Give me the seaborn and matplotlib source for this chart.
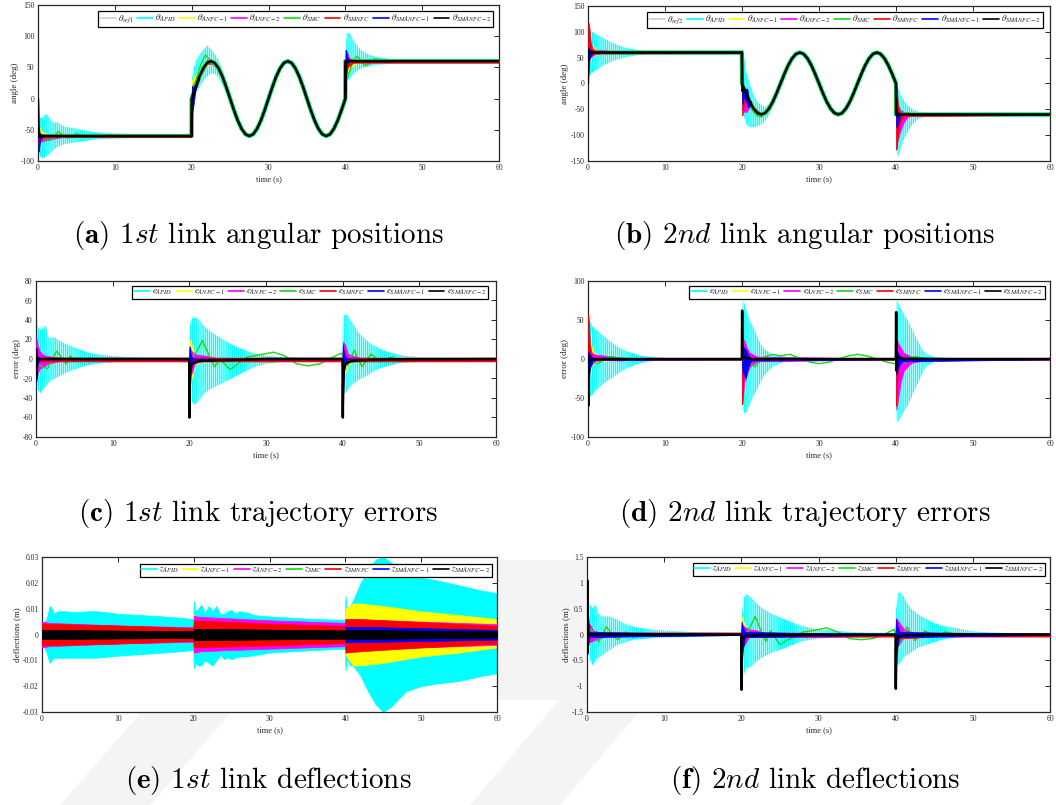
import numpy as np
import pandas as pd
import matplotlib
matplotlib.use("Agg")
import matplotlib.pyplot as plt
import seaborn as sns
from matplotlib.lines import Line2D
from matplotlib.ticker import FuncFormatter

# ---------------- data ----------------
TIME_TICKS = [0, 10, 20, 30, 40, 50, 60]
COLORS = ["#00ffff", "#ffff00", "#ff00ff", "#11dd11", "#ff0000", "#0000ff", "#000000"]
NAMES = ["APID", "ANFC-1", "ANFC-2", "SMC", "SMNFC", "SMANFC-1", "SMANFC-2"]

REF_TIME = [0, 19.99, 20, 20.5, 21, 21.5, 22, 22.5, 23, 23.5, 24, 24.5, 25, 25.5, 26, 26.5, 27, 27.5,
            28, 28.5, 29, 29.5, 30, 30.5, 31, 31.5, 32, 32.5, 33, 33.5, 34, 34.5, 35, 35.5, 36, 36.5,
            37, 37.5, 38, 38.5, 39, 39.5, 40, 40.01, 60]
REF1 = [-60, -60, 0, 18.5, 35.3, 48.5, 57.1, 60, 57.1, 48.5, 35.3, 18.5, 0, -18.5, -35.3, -48.5, -57.1, -60,
        -57.1, -48.5, -35.3, -18.5, 0, 18.5, 35.3, 48.5, 57.1, 60, 57.1, 48.5, 35.3, 18.5, 0, -18.5, -35.3, -48.5,
        -57.1, -60, -57.1, -48.5, -35.3, -18.5, 0, 60, 60]
REF2 = [60, 60, 0, -18.5, -35.3, -48.5, -57.1, -60, -57.1, -48.5, -35.3, -18.5, 0, 18.5, 35.3, 48.5, 57.1, 60,
        57.1, 48.5, 35.3, 18.5, 0, -18.5, -35.3, -48.5, -57.1, -60, -57.1, -48.5, -35.3, -18.5, 0, 18.5, 35.3, 48.5,
        57.1, 60, 57.1, 48.5, 35.3, 18.5, 0, -60, -60]

# --- panel (a): envelopes (t, low, high) per window; lines (t, y) per window
A_APID = [
    [(0.02, -85, -20), (0.2, -93, -30), (0.5, -95, -32), (0.8, -95, -27), (1.2, -92, -25), (1.6, -88, -33),
     (2, -82, -38), (2.5, -78, -38), (3, -75, -42), (3.5, -73, -45), (4, -72, -46), (5, -70, -48), (6, -68, -51),
     (7, -66, -53), (8, -65, -54), (10, -64, -56), (12, -63, -57), (14, -62, -58), (17, -61, -59), (19.95, -60.5, -59.5)],
    [(20.02, -10, 30), (20.3, -5, 50), (20.6, 10, 62), (21, 18, 70), (21.5, 28, 78), (22, 35, 85), (22.5, 40, 80),
     (23, 40, 72), (23.5, 34, 62), (24, 22, 47), (24.5, 8, 28), (25, -8, 8), (25.5, -25, -12), (26, -40, -30)],
    [(40.02, 10, 80), (40.2, 28, 105), (40.6, 32, 105), (41, 38, 95), (41.5, 44, 86), (42, 48, 78), (43, 51, 71),
     (44, 54, 67), (45, 55, 65), (46, 56, 63), (48, 57.5, 62), (50, 58.5, 61), (53, 59.3, 60.7), (56, 59.5, 60.5),
     (60, 59.7, 60.3)]]
A_ANFC1 = [
    [(0.05, -70, -40), (0.3, -68, -50), (0.8, -66, -55), (1.5, -64, -58), (2.5, -61, -60)],
    [(20.05, -5, 30), (20.3, 5, 35), (20.8, 25, 42), (21.5, 45, 52), (22.5, 58, 61)],
    [(40.05, 30, 70), (40.3, 40, 62), (40.8, 52, 61), (41.5, 57, 61), (42.5, 59.5, 60.5)]]
A_ANFC2 = [
    [(0.05, -75, -50), (0.2, -70, -55), (0.5, -68, -58), (1, -67, -60), (1.5, -66, -60), (2, -64, -60),
     (3, -62, -60), (4, -60.5, -59.5)],
    [(20.05, -5, 20), (20.3, 5, 25), (21, 33, 40), (22, 55, 63), (23, 56, 60)],
    [(40.05, 40, 78), (40.2, 50, 75), (40.5, 56, 65), (41, 58, 62), (42, 59, 61)]]
A_SMC = [
    [(0, 0), (0.1, -40), (0.3, -58), (0.8, -65), (1.5, -67), (2, -62), (2.6, -53), (3.2, -58), (3.8, -63),
     (4.4, -61), (5, -56), (5.6, -59), (6.5, -61), (8, -60)],
    [(19.99, -60), (20.05, -5), (20.3, 20), (20.7, 35), (21.2, 55), (21.8, 70), (22.4, 62), (23, 52), (23.5, 48),
     (24, 36), (24.5, 18), (25, 0)],
    [(39.99, 0), (40.05, 25), (40.5, 42), (41, 60), (41.5, 68), (42, 62), (42.5, 53), (43, 55), (43.8, 64),
     (44.5, 62), (45.5, 58), (47, 60.5), (50, 60)]]
A_SMNFC = [
    [(0.03, -72, -45), (0.2, -68, -55), (0.5, -64, -57), (1, -62, -58), (2, -61.5, -58.5), (19.95, -61.5, -58.5)],
    [(40.03, 30, 70), (40.3, 50, 65), (41, 57.5, 62), (60, 57.5, 62)]]
A_SMANFC1 = [
    [(0.03, -40, 0), (0.08, -85, -45), (0.15, -80, -55), (0.3, -65, -58), (0.5, -61, -60)],
    [(20.02, -55, 20), (20.1, -20, 20), (20.25, -10, 15), (20.5, 15, 20)],
    [(40.02, 10, 78), (40.1, 40, 78), (40.2, 55, 70), (40.4, 58, 62)]]
A_SMANFC2 = [
    [(0, 0), (0.05, -40), (0.1, -62), (0.2, -57), (0.35, -61), (0.6, -60)],
    [(19.99, -60), (20.05, -8), (20.1, -2), (20.2, 3), (20.5, 15), (21, 32)],
    [(39.99, 0), (40.03, 45), (40.1, 58), (40.3, 60)]]

# --- panel (b)
B_APID = [
    [(0.02, 5, 95), (0.2, 15, 102), (0.5, 20, 100), (1, 25, 96), (1.5, 30, 92), (2, 35, 88), (3, 42, 80),
     (4, 47, 74), (5, 51, 69), (6, 54, 66), (8, 57, 63), (10, 58.5, 61.5), (13, 59, 61), (16, 59.5, 60.5),
     (19.95, 59.7, 60.3)],
    [(20.02, -20, 68), (20.2, -60, 60), (20.5, -78, 25), (21, -85, 0), (21.5, -85, -20), (22, -83, -35),
     (22.5, -80, -42), (23, -73, -45), (23.5, -62, -40), (24, -45, -28), (24.5, -27, -10), (25, -8, 8),
     (25.5, 12, 25), (26, 30, 40)],
    [(40.02, -120, 5), (40.2, -145, -5), (40.5, -130, -20), (41, -110, -32), (41.5, -95, -42), (42, -82, -48),
     (42.5, -74, -52), (43, -68, -55), (44, -64, -57), (45, -62, -58.5), (46, -61, -59), (48, -60.5, -59.5),
     (50, -60.3, -59.7), (55, -60.2, -59.8), (60, -60.2, -59.8)]]
B_ANFC1 = [
    [(0.05, 40, 90), (0.3, 50, 75), (0.8, 55, 68), (1.5, 57, 64), (2.5, 59, 61)],
    [(20.05, -45, -5), (20.4, -50, -20), (21, -45, -30), (22, -60, -55)],
    [(40.05, -110, -40), (40.3, -100, -50), (40.7, -75, -55), (41.5, -62, -59)]]
B_ANFC2 = [
    [(0.05, 40, 80), (0.3, 50, 70), (0.8, 56, 66), (1.5, 58, 65), (2.5, 60, 64), (3.5, 59, 61)],
    [(20.05, -50, -5), (20.3, -55, -10), (20.6, -55, -20), (21, -45, -30), (21.5, -55, -45), (22.5, -62, -58)],
    [(40.05, -125, -30), (40.2, -110, -40), (40.5, -95, -50), (41, -75, -55), (41.5, -65, -58), (42, -61, -59)]]
B_SMC = [
    [(0, 60), (0.3, 65), (1, 63), (2, 60.5), (3, 60)],
    [(19.99, 60), (20.05, 0), (20.5, -20), (21, -40), (21.5, -55), (22, -63), (22.5, -65), (23, -58), (23.5, -48)],
    [(39.99, 0), (40.05, -10), (40.3, -45), (40.8, -62), (41.5, -56), (42.5, -61), (44, -60)]]
B_SMNFC = [
    [(0.03, 10, 117), (0.1, 40, 117), (0.2, 50, 105), (0.35, 55, 80), (0.6, 57, 66), (1, 58, 62), (19.95, 58.5, 61.5)],
    [(20.02, -62, 0), (20.1, -60, -5), (20.25, -40, -10), (20.5, -25, -18)],
    [(40.02, -128, -5), (40.1, -125, -10), (40.25, -100, -40), (40.5, -75, -55), (41, -63, -58), (60, -61, -59)]]
B_SMANFC1 = [
    [(0.03, 20, 70), (0.1, 45, 70), (0.3, 52, 65), (0.6, 58, 61)],
    [(20.02, -40, -5), (20.3, -25, -10), (20.7, -45, -10), (20.9, -45, -30), (21.2, -40, -35)],
    [(40.03, -85, -50), (40.2, -80, -55), (40.5, -65, -58)]]
B_SMANFC2 = [
    [(0, 0), (0.05, 50), (0.1, 65), (0.2, 60), (0.4, 60)],
    [(19.99, 60), (20.05, -15), (20.15, -10), (20.3, -12), (20.6, -22)],
    [(39.99, 0), (40.05, -50), (40.15, -62), (40.3, -60)]]

# --- panel (c): errors of link 1 (t, low, high) and lines (t, y)
C_APID = [(0, -10, 60), (0.1, -25, 45), (0.3, -33, 32), (0.6, -35, 30), (1, -30, 32), (1.3, -28, 35), (1.6, -25, 22),
          (2, -22, 22), (2.5, -20, 22), (3, -18, 19), (3.5, -16, 17), (4, -14, 15), (5, -11, 12), (6, -8, 9),
          (7, -6, 6), (8, -5, 5), (10, -3.5, 3), (12, -2.5, 2), (15, -2, 1.5), (19.95, -1.5, 1), (20.02, -20, 30),
          (20.2, -40, 40), (20.5, -47, 43), (21, -45, 42), (21.5, -40, 38), (22, -35, 33), (23, -30, 27),
          (24, -26, 22), (25, -22, 17), (26, -18, 13), (27, -14, 10), (28, -10, 7), (29, -7, 5), (30, -5, 3.5),
          (32, -3, 2), (35, -2, 1.5), (39.95, -1.5, 1), (40.02, -20, 35), (40.2, -35, 45), (40.5, -34, 46),
          (41, -28, 40), (41.5, -25, 35), (42, -22, 28), (43, -18, 20), (44, -13, 14), (45, -9, 10), (46, -7, 7),
          (47, -5, 5), (48, -4, 3.5), (50, -3, 2), (52, -2, 1.5), (55, -1.5, 1), (60, -1.5, 1)]
C_ANFC1 = [(0, 0, 0), (0.05, -10, 12), (0.2, -12, 10), (0.5, -10, 5), (1, -6, 3), (1.5, -3, 2), (2.5, -2, 1),
           (4, -1, 0.5), (19.98, -0.5, 0.5), (20.05, -28, 20), (20.3, -20, 15), (20.7, -6, 5), (21.5, -3, 3),
           (22.5, -2, 1.5), (23.5, -1, 1), (39.98, -0.5, 0.5), (40.05, -18, 8), (40.3, -15, 5), (40.7, -5, 3),
           (41.5, -2, 2), (42.5, -1, 1), (60, -0.5, 0.5)]
C_ANFC2 = [(0, 0, 0), (0.05, -20, 22), (0.2, -15, 15), (0.5, -10, 8), (1, -8, 4), (1.5, -5, 3), (2.5, -3, 2),
           (4, -1, 1), (19.98, -0.5, 0.5), (20.05, -10, 12), (20.3, -15, 8), (20.7, -5, 5), (21.5, -2, 4),
           (22.5, -1.5, 3), (23.5, -1, 1), (39.98, -0.5, 0.5), (40.05, -10, 18), (40.3, -5, 15), (40.7, -3, 5),
           (41.5, -1, 3), (42.5, -1, 1), (60, -0.5, 0.5)]
C_SMC = [(0, 0), (0.3, -5), (0.8, -8), (1.5, -10), (2.1, 0), (2.7, 8), (3.3, 2), (3.9, -5), (4.5, 3), (5.1, -2),
         (5.8, 1), (6.5, -1), (7.5, 0), (20, 0), (20.2, -10), (20.6, 5), (21, 8), (21.7, 19), (22.5, 5),
         (23.3, -8), (24, 0), (25.3, -11), (26.5, -4), (27.5, 2), (29, 4), (31, 7), (32.5, 3), (34, -5),
         (35.5, -7), (37, -5), (38.5, 1), (39.8, 6), (40.2, 2), (40.6, -7), (41.5, 9), (42.5, -8), (43.7, 5),
         (45, -3), (46.2, 2), (47.5, -1), (60, 0)]
C_SMNFC = [(0, -2.5, 1.5), (0.02, -20, 5), (0.08, -15, 3), (0.2, -5, 2), (0.5, -2.5, 1.5), (19.98, -2.5, 1.5),
           (20.02, -55, 10), (20.08, -30, 5), (20.2, -8, 2), (20.5, -2.5, 1.5), (39.98, -2.5, 1.5),
           (40.02, -60, 12), (40.08, -40, 8), (40.2, -10, 3), (40.5, -2.5, 1.5), (60, -2.5, 1.5)]
C_SMANFC1 = [(0, 0, 0), (0.03, -23, 10), (0.1, -10, 5), (0.3, -2, 1), (0.6, -0.5, 0.5), (19.98, -0.5, 0.5),
             (20.03, -15, 13), (20.1, -10, 8), (20.3, -3, 2), (20.6, -0.5, 0.5), (39.98, -0.5, 0.5),
             (40.03, -40, 15), (40.1, -20, 10), (40.3, -5, 3), (40.6, -0.5, 0.5), (60, -0.5, 0.5)]
C_SMANFC2 = [(0, 0), (0.03, 10), (0.06, -20), (0.1, -5), (0.2, 0), (19.98, 0), (20.02, -60), (20.06, -25),
             (20.15, -12), (20.3, -6), (20.6, -4), (21, -2.5), (22, -1.8), (24, -1.2), (27, -0.8), (30, 0),
             (39.98, 0), (40.02, -60), (40.06, -25), (40.15, -12), (40.3, -6), (40.6, -4), (41, -2.5), (42, -1.5),
             (44, -0.8), (47, -0.3), (60, 0)]

# --- panel (d): errors of link 2
D_APID = [(0, -10, 10), (0.05, -45, 50), (0.2, -48, 50), (0.5, -47, 42), (1, -40, 38), (1.5, -36, 34), (2, -32, 30),
          (3, -25, 22), (4, -18, 15), (5, -12, 10), (6, -8, 7), (7, -5, 4), (8, -3, 3), (10, -2, 1.5),
          (12, -1, 1), (15, -0.7, 0.7), (19.95, -0.5, 0.5), (20.02, -30, 30), (20.1, -65, 75), (20.3, -70, 72),
          (20.6, -68, 62), (21, -58, 50), (21.5, -48, 40), (22, -38, 28), (22.5, -28, 18), (23, -20, 12),
          (24, -10, 6), (25, -5, 4), (26, -3, 2), (28, -1.5, 1), (30, -1, 0.7), (35, -0.7, 0.5), (39.95, -0.5, 0.5),
          (40.02, -40, 30), (40.1, -82, 78), (40.3, -80, 72), (40.6, -75, 66), (41, -68, 58), (41.5, -60, 50),
          (42, -50, 40), (42.5, -38, 30), (43, -28, 20), (43.5, -16, 11), (44, -9, 6), (45, -3, 2.5), (47, -1, 1),
          (50, -0.6, 0.6), (55, -0.5, 0.5), (60, -0.5, 0.5)]
D_ANFC1 = [(0, 0, 0), (0.05, -15, 25), (0.3, -10, 20), (0.8, -5, 8), (1.5, -3, 4), (2.5, -2, 2), (4, -1, 1),
           (6, -0.5, 0.5), (19.98, -0.5, 0.5), (20.05, -60, 5), (20.3, -25, 10), (20.6, -10, 5), (21, -5, 3),
           (22, -2, 1), (39.98, -0.5, 0.5), (40.05, -60, 10), (40.3, -40, 8), (40.6, -20, 5), (41, -8, 3),
           (42, -3, 1), (44, -1, 0.5), (60, -0.5, 0.5)]
D_ANFC2 = [(0, 0, 0), (0.05, -15, 15), (0.3, -10, 10), (0.8, -3, 6), (1.5, -2, 5), (2.5, -1, 4), (4, -2, 2),
           (6, -1, 1), (19.98, -0.5, 0.5), (20.05, -58, 5), (20.3, -30, 25), (20.6, -20, 15), (21, -10, 8),
           (22, -3, 3), (39.98, -0.5, 0.5), (40.05, -65, 25), (40.3, -50, 20), (40.6, -30, 15), (41, -15, 8),
           (42, -5, 3), (44, -1, 1), (60, -0.5, 0.5)]
D_SMC = [(0, 0), (0.3, -3), (0.8, -5), (1.3, -6), (1.9, -2), (2.5, 2), (3.2, 3), (4, 1), (5, 0), (20, 0),
         (20.2, -5), (20.5, -10), (21, -5), (21.7, -10), (22.3, -3), (23, 3), (24, 6), (25, 4), (26.2, 6),
         (27.5, 1), (28.8, -4), (30, -6), (31.3, -4), (32.5, 0), (33.8, 4), (35, 6), (36.2, 4), (37.5, 0),
         (38.8, -4), (39.9, -6), (40.2, -2), (40.6, 3), (41.2, -5), (41.8, 2), (42.5, 3), (43.5, 1), (45, 0),
         (60, 0)]
D_SMNFC = [(0, -1, 1), (0.03, -45, 57), (0.1, -30, 50), (0.25, -10, 20), (0.5, -2, 2), (1, -1, 1),
           (19.98, -1, 1), (20.03, -58, 5), (20.1, -40, 3), (20.25, -10, 2), (20.5, -2, 1), (39.98, -1, 1),
           (40.03, -60, 60), (40.1, -40, 10), (40.25, -15, 5), (40.5, -5, 2), (41, -2, 1), (60, -1, 1)]
D_SMANFC1 = [(0, 0, 0), (0.03, -25, 10), (0.1, -20, 8), (0.3, -10, 5), (0.6, -3, 2), (1, -1, 1),
             (19.98, -0.5, 0.5), (20.03, -15, 20), (20.2, -20, 15), (20.5, -25, 12), (20.8, -10, 5),
             (21.2, -2, 1), (39.98, -0.5, 0.5), (40.03, -20, 15), (40.15, -15, 10), (40.4, -8, 5),
             (40.8, -3, 2), (60, -0.5, 0.5)]
D_SMANFC2 = [(0, 0), (0.03, -60), (0.06, 5), (0.1, -5), (0.2, -2), (0.4, -1), (1, 0), (19.98, 0), (20.02, 62),
             (20.06, 10), (20.15, 4), (20.3, 2), (20.6, 1), (21, 0), (39.98, 0), (40.02, 60), (40.06, -15),
             (40.15, 4), (40.3, 2), (40.6, 1), (41, 0), (60, 0)]

# --- panel (e): deflections of link 1
E_APID = [(0, -0.003, 0.003), (0.3, -0.005, 0.005), (0.6, -0.007, 0.006), (1.0, -0.011, 0.011),
          (1.3, -0.01, 0.01), (1.6, -0.009, 0.008), (2, -0.009, 0.009), (3, -0.009, 0.009), (4, -0.009, 0.0088),
          (5, -0.009, 0.0088), (6, -0.009, 0.009), (7, -0.009, 0.009), (8, -0.0088, 0.0088), (10, -0.0082, 0.008),
          (12, -0.0078, 0.0077), (15, -0.0072, 0.0072), (17, -0.0068, 0.0068), (19.95, -0.006, 0.006),
          (20.02, -0.013, 0.013), (20.2, -0.011, 0.009), (20.6, -0.012, 0.01), (21, -0.012, 0.0115),
          (21.5, -0.01, 0.0085), (22, -0.011, 0.011), (22.5, -0.012, 0.009), (23, -0.01, 0.011),
          (23.5, -0.008, 0.008), (24, -0.0095, 0.008), (24.5, -0.009, 0.009), (25, -0.0095, 0.0095),
          (25.5, -0.009, 0.008), (26, -0.0085, 0.009), (27, -0.0085, 0.0085), (28, -0.008, 0.0075),
          (30, -0.007, 0.007), (33, -0.0065, 0.0065), (36, -0.006, 0.006), (39.95, -0.0055, 0.0057),
          (40.02, -0.014, 0.015), (40.2, -0.009, 0.009), (40.6, -0.012, 0.011), (41, -0.012, 0.013),
          (42, -0.016, 0.02), (43, -0.022, 0.025), (44, -0.027, 0.029), (45, -0.03, 0.03), (46, -0.028, 0.028),
          (47, -0.025, 0.025), (48, -0.022, 0.023), (50, -0.02, 0.022), (52, -0.019, 0.021), (55, -0.018, 0.019),
          (58, -0.016, 0.017), (60, -0.015, 0.016)]
E_ANFC1 = [(0, -0.004, 0.004), (19.95, -0.0025, 0.0025), (20.02, -0.007, 0.0075), (21, -0.0065, 0.0065),
           (30, -0.005, 0.005), (39.95, -0.004, 0.004), (40.02, -0.008, 0.01), (41, -0.012, 0.012),
           (42, -0.012, 0.012), (45, -0.011, 0.011), (50, -0.0085, 0.009), (55, -0.007, 0.0075), (60, -0.005, 0.006)]
E_ANFC2 = [(0, -0.005, 0.005), (1, -0.0045, 0.0045), (10, -0.0035, 0.0035), (19.95, -0.0028, 0.0028),
           (20.02, -0.007, 0.0072), (21, -0.0065, 0.0068), (25, -0.006, 0.0062), (30, -0.0055, 0.0055),
           (39.95, -0.0045, 0.0045), (40.02, -0.006, 0.006), (60, -0.004, 0.004)]
E_SMC = [(0, -0.001, 0.001), (60, -0.001, 0.001)]
E_SMNFC = [(0, -0.0042, 0.0042), (10, -0.0035, 0.0035), (19.95, -0.0025, 0.0025), (20.02, -0.005, 0.0055),
           (30, -0.0042, 0.0042), (39.95, -0.0033, 0.0033), (40.02, -0.007, 0.006), (42, -0.0065, 0.006),
           (50, -0.005, 0.0048), (60, -0.0035, 0.0033)]
E_SMANFC1 = [(0, -0.0015, 0.0015), (19.95, -0.0012, 0.0012), (20.02, -0.002, 0.002), (39.95, -0.0015, 0.0015),
             (40.02, -0.003, 0.003), (45, -0.0028, 0.0028), (60, -0.002, 0.0018)]
E_SMANFC2 = [(0, -0.0018, 0.0018), (19.95, -0.0013, 0.0013), (20.02, -0.0022, 0.0022), (39.95, -0.0016, 0.0016),
             (40.02, -0.0018, 0.0018), (60, -0.0012, 0.0012)]

# --- panel (f): deflections of link 2
F_APID = [(0, -0.05, 0.1), (0.2, -0.35, 0.65), (0.5, -0.55, 0.55), (0.8, -0.6, 0.5), (1.1, -0.5, 0.6),
          (1.5, -0.45, 0.4), (2, -0.4, 0.35), (3, -0.3, 0.35), (4, -0.2, 0.28), (5, -0.15, 0.2), (6, -0.1, 0.15),
          (8, -0.08, 0.1), (10, -0.06, 0.08), (13, -0.05, 0.05), (16, -0.04, 0.04), (19.95, -0.03, 0.03),
          (20.02, -0.2, 0.3), (20.3, -0.8, 0.7), (20.6, -0.65, 0.78), (21, -0.65, 0.75), (21.5, -0.6, 0.68),
          (22, -0.52, 0.6), (23, -0.42, 0.48), (24, -0.35, 0.4), (25, -0.3, 0.33), (26, -0.24, 0.27),
          (27, -0.18, 0.21), (28, -0.13, 0.16), (30, -0.08, 0.1), (33, -0.05, 0.06), (36, -0.04, 0.04),
          (39.95, -0.03, 0.03), (40.02, -0.3, 0.45), (40.3, -0.6, 0.8), (40.6, -0.55, 0.82), (41, -0.45, 0.75),
          (41.5, -0.4, 0.6), (42, -0.35, 0.5), (43, -0.25, 0.38), (44, -0.2, 0.3), (45, -0.15, 0.22),
          (46, -0.1, 0.17), (48, -0.06, 0.12), (50, -0.04, 0.06), (52, -0.03, 0.04), (55, -0.02, 0.03),
          (60, -0.02, 0.02)]
F_ANFC1 = [(0, 0, 0), (0.05, -0.15, 0.15), (0.5, -0.1, 0.05), (1.5, -0.02, 0.02), (19.98, -0.01, 0.01),
           (20.05, -0.2, 0.35), (20.4, -0.1, 0.2), (21, -0.03, 0.05), (39.98, -0.01, 0.01), (40.05, -0.3, 0.3),
           (40.4, -0.2, 0.15), (41, -0.03, 0.05), (60, -0.01, 0.01)]
F_ANFC2 = [(0, 0, 0), (0.05, -0.1, 0.2), (0.4, -0.15, 0.2), (0.8, -0.12, 0.08), (1.5, -0.08, 0.05),
           (2.5, -0.03, 0.03), (19.98, -0.01, 0.01), (20.05, -0.25, 0.2), (20.4, -0.2, 0.15), (21, -0.05, 0.1),
           (22, -0.05, 0.08), (23, -0.03, 0.03), (39.98, -0.01, 0.01), (40.05, -0.25, 0.32), (40.4, -0.2, 0.25),
           (41, -0.05, 0.12), (42, -0.03, 0.05), (43, -0.02, 0.02), (60, -0.01, 0.01)]
F_SMC = [(0, 0), (0.5, 0.1), (1, 0), (1.5, -0.15), (2.5, 0.15), (3.5, -0.05), (4, -0.1), (5, 0.05), (6, -0.05),
         (8, 0), (20, 0), (20.3, -0.1), (21, 0.1), (21.8, 0.35), (22.6, 0.05), (23.2, -0.13), (23.8, 0.07),
         (25, -0.2), (26, -0.1), (27, -0.05), (28, 0.05), (29.5, 0.08), (31, 0.13), (32.5, 0.05), (34, -0.08),
         (35.5, -0.1), (37, -0.08), (38.5, 0), (39.8, 0.1), (40.3, -0.2), (41.5, 0.15), (42.5, -0.12),
         (43.8, 0.07), (45, -0.03), (46.5, 0.05), (48, 0), (60, 0)]
F_SMNFC = [(0, -0.01, 0.04), (0.05, -0.1, 0.05), (0.3, -0.02, 0.04), (19.95, -0.01, 0.04), (20.02, -0.15, 0.02),
           (20.3, -0.05, 0.01), (39.95, -0.04, 0.01), (40.02, -1.05, 0.05), (40.1, -0.6, 0.05), (40.3, -0.08, 0.03),
           (45, -0.04, 0.03), (60, -0.04, 0.03)]
F_SMANFC1 = [(0, 0, 0), (0.03, -0.4, 1.0), (0.1, -0.3, 0.5), (0.3, -0.05, 0.05), (19.98, -0.01, 0.01),
             (20.03, -0.6, 0.25), (20.2, -0.3, 0.15), (20.5, -0.05, 0.05), (39.98, -0.01, 0.01), (40.03, -0.5, 0.3),
             (40.2, -0.25, 0.2), (40.5, -0.05, 0.05), (60, -0.01, 0.01)]
F_SMANFC2 = [(0, 0), (0.03, 1.05), (0.06, -0.35), (0.1, 0.05), (0.2, 0), (19.98, 0), (20.02, -1.07),
             (20.06, -0.2), (20.15, -0.1), (20.3, -0.05), (20.6, -0.03), (21, -0.02), (23, -0.01), (30, 0),
             (39.98, 0), (40.02, -1.05), (40.06, -0.3), (40.15, -0.1), (40.3, -0.05), (40.6, -0.03), (41, -0.02),
             (45, 0), (60, 0)]

Y_TICKS_A = [-100, -50, 0, 50, 100, 150]
Y_TICKS_B = [-150, -100, -50, 0, 50, 100, 150]
Y_TICKS_C = [-80, -60, -40, -20, 0, 20, 40, 60, 80]
Y_TICKS_D = [-100, -50, 0, 50, 100]
Y_TICKS_E = [-0.03, -0.02, -0.01, 0, 0.01, 0.02, 0.03]
Y_TICKS_F = [-1.5, -1, -0.5, 0, 0.5, 1, 1.5]

CAPTIONS = [r"$\mathbf{(a)}$ 1$\mathit{st}$ link angular positions",
            r"$\mathbf{(b)}$ 2$\mathit{nd}$ link angular positions",
            r"$\mathbf{(c)}$ 1$\mathit{st}$ link trajectory errors",
            r"$\mathbf{(d)}$ 2$\mathit{nd}$ link trajectory errors",
            r"$\mathbf{(e)}$ 1$\mathit{st}$ link deflections",
            r"$\mathbf{(f)}$ 2$\mathit{nd}$ link deflections"]

# ---------------- drawing ----------------
sns.set_theme(style="white")
plt.rcParams["font.family"] = ["Liberation Serif", "DejaVu Serif"]
plt.rcParams["axes.unicode_minus"] = False
plt.rcParams["mathtext.fontset"] = "stix"
plt.rcParams["hatch.linewidth"] = 1.0

W, H = 1056, 805
fig = plt.figure(figsize=(W / 100, H / 100), dpi=100)
fig.patch.set_facecolor("white")

# faint watermark behind the lower panels
for poly in [[(60, 805), (150, 805), (330, 600), (240, 600)],
             [(470, 805), (560, 805), (700, 640), (610, 640)],
             [(497, 560), (590, 560), (590, 700), (497, 700)]]:
    xs = [p[0] / W for p in poly]
    ys = [1 - p[1] / H for p in poly]
    fig.patches.append(plt.Polygon(list(zip(xs, ys)), closed=True, transform=fig.transFigure,
                                   facecolor="#f4f4f4", edgecolor="none", zorder=0))


def add_ax(l, t, r, b):
    return fig.add_axes([l / W, 1 - b / H, (r - l) / W, (b - t) / H])


def band(ax, rows, color, z, spiky=False):
    df = pd.DataFrame(rows, columns=["t", "lo", "hi"])
    if spiky:
        ax.fill_between(df["t"], df["lo"], df["hi"], facecolor="none", edgecolor=color,
                        hatch="||||||||", lw=0, zorder=z)
    else:
        ax.fill_between(df["t"], df["lo"], df["hi"], color=color, lw=0.5, ec=color, zorder=z)


def line(ax, rows, color, lw, z):
    df = pd.DataFrame(rows, columns=["t", "y"])
    sns.lineplot(data=df, x="t", y="y", ax=ax, color=color, lw=lw, zorder=z,
                 estimator=None, sort=False, legend=False)


def style(ax, ylim, yticks, ylabel):
    ax.set_xlim(0, 60)
    ax.set_ylim(*ylim)
    ax.set_xticks(TIME_TICKS)
    ax.set_yticks(yticks)
    ax.yaxis.set_major_formatter(FuncFormatter(lambda v, p: f"{v:g}"))
    ax.tick_params(direction="in", top=True, right=True, length=3.5, width=0.7,
                   labelsize=5.5, pad=2.5, colors="#262626")
    for s in ax.spines.values():
        s.set_color("#262626")
        s.set_linewidth(0.9)
    ax.set_xlabel("time (s)", fontsize=6, labelpad=2, color="#262626")
    ax.set_ylabel(ylabel, fontsize=6.5, labelpad=1, color="#262626")
    ax.set_facecolor("white")
    ax.set_zorder(2)


def legend(ax, labels, colors, anchor):
    handles = [Line2D([], [], color=c, lw=1.2) for c in colors]
    leg = ax.legend(handles, labels, loc="upper right", bbox_to_anchor=anchor, ncol=len(labels),
                    fontsize=6.5, frameon=True, fancybox=False, edgecolor="black", framealpha=1,
                    handlelength=1.75, handletextpad=0.25, columnspacing=0.35, borderpad=0.2,
                    borderaxespad=0)
    leg.get_frame().set_linewidth(0.9)
    leg.set_zorder(20)


def angle_panel(ax, ref, series):
    ref_rows = list(zip(REF_TIME, ref))
    apid, anfc1, anfc2, smc, smnfc, sman1, sman2 = series
    line(ax, ref_rows, COLORS[0], 3.2, 1)
    for w in apid:
        band(ax, w, COLORS[0], 1, spiky=True)
    for w in anfc1:
        band(ax, w, COLORS[1], 2)
    for w in anfc2:
        band(ax, w, COLORS[2], 3)
    line(ax, ref_rows, COLORS[3], 2.6, 4)
    for w in smc:
        line(ax, w, COLORS[3], 1.0, 4)
    for w in smnfc:
        band(ax, w, COLORS[4], 5)
    for w in sman1:
        band(ax, w, COLORS[5], 6)
    line(ax, ref_rows, COLORS[6], 1.8, 7)
    for w in sman2:
        line(ax, w, COLORS[6], 1.6, 7)


def error_panel(ax, data, spiky=True):
    apid, anfc1, anfc2, smc, smnfc, sman1, sman2 = data
    band(ax, apid, COLORS[0], 1, spiky=spiky)
    band(ax, anfc1, COLORS[1], 2)
    band(ax, anfc2, COLORS[2], 3)
    if len(smc[0]) == 2:
        line(ax, smc, COLORS[3], 1.0, 4)
    else:
        band(ax, smc, COLORS[3], 4)
    band(ax, smnfc, COLORS[4], 5)
    band(ax, sman1, COLORS[5], 6)
    if len(sman2[0]) == 2:
        line(ax, sman2, COLORS[6], 1.8, 7)
    else:
        band(ax, sman2, COLORS[6], 7)


# (a)
ax_a = add_ax(38, 5, 499, 161)
angle_panel(ax_a, REF1, [A_APID, A_ANFC1, A_ANFC2, A_SMC, A_SMNFC, A_SMANFC1, A_SMANFC2])
style(ax_a, (-100, 150), Y_TICKS_A, "angle (deg)")
legend(ax_a, [r"$\theta_{ref1}$"] + [r"$\theta_{%s}$" % n for n in NAMES], ["#cfcfcf"] + COLORS, (0.988, 0.962))

# (b)
ax_b = add_ax(588, 6, 1050, 161)
angle_panel(ax_b, REF2, [B_APID, B_ANFC1, B_ANFC2, B_SMC, B_SMNFC, B_SMANFC1, B_SMANFC2])
style(ax_b, (-150, 150), Y_TICKS_B, "angle (deg)")
legend(ax_b, [r"$\theta_{ref2}$"] + [r"$\theta_{%s}$" % n for n in NAMES], ["#d9c6c6"] + COLORS, (0.985, 0.961))

# (c)
ax_c = add_ax(36, 281, 496, 437)
error_panel(ax_c, [C_APID, C_ANFC1, C_ANFC2, C_SMC, C_SMNFC, C_SMANFC1, C_SMANFC2])
style(ax_c, (-80, 80), Y_TICKS_C, "error (deg)")
legend(ax_c, [r"$e_{%s}$" % n for n in NAMES], COLORS, (0.983, 0.968))

# (d)
ax_d = add_ax(588, 281, 1050, 437)
error_panel(ax_d, [D_APID, D_ANFC1, D_ANFC2, D_SMC, D_SMNFC, D_SMANFC1, D_SMANFC2])
style(ax_d, (-100, 100), Y_TICKS_D, "error (deg)")
legend(ax_d, [r"$e_{%s}$" % n for n in NAMES], COLORS, (0.989, 0.968))

# (e)
ax_e = add_ax(42, 557, 497, 712)
error_panel(ax_e, [E_APID, E_ANFC1, E_ANFC2, E_SMC, E_SMNFC, E_SMANFC1, E_SMANFC2], spiky=False)
style(ax_e, (-0.03, 0.03), Y_TICKS_E, "deflections (m)")
legend(ax_e, [r"$z_{%s}$" % n for n in NAMES], COLORS, (0.989, 0.955))

# (f)
ax_f = add_ax(587, 557, 1050, 712)
error_panel(ax_f, [F_APID, F_ANFC1, F_ANFC2, F_SMC, F_SMNFC, F_SMANFC1, F_SMANFC2])
style(ax_f, (-1.5, 1.5), Y_TICKS_F, "deflections (m)")
legend(ax_f, [r"$z_{%s}$" % n for n in NAMES], COLORS, (0.989, 0.961))

# captions
CAP_POS = [(258, 235), (805, 235), (258, 513), (805, 513), (268, 780), (815, 780)]
for (cx, cy), cap in zip(CAP_POS, CAPTIONS):
    fig.text(cx / W, 1 - cy / H, cap, ha="center", va="center", fontsize=21,
             family="cmr10", math_fontfamily="cm", color="black", zorder=3)

fig.savefig("out.png", dpi=100, facecolor="white")
